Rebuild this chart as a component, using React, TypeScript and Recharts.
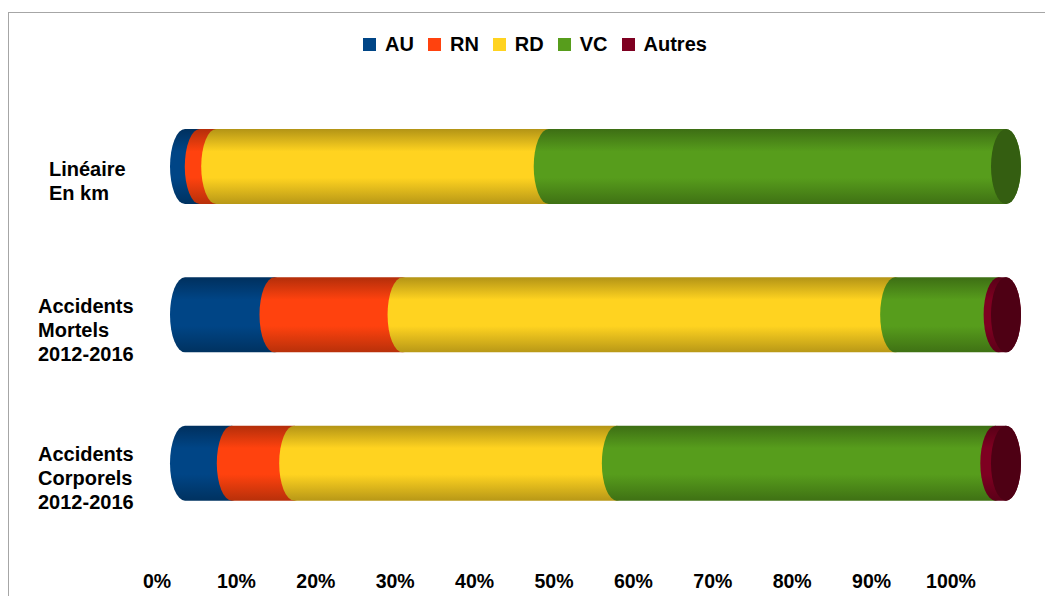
import React from 'react';
import { BarChart, Bar, XAxis, YAxis, Legend } from 'recharts';

const categories = ['Linéaire\nEn km', 'Accidents\nMortels\n2012-2016', 'Accidents\nCorporels\n2012-2016'];
const au = [1.8, 10.9, 5.7];
const rn = [2.0, 15.6, 7.6];
const rd = [40.5, 60.0, 39.3];
const vc = [55.7, 12.6, 46.1];
const autres = [0, 0.9, 1.3];
const xTicks = [0, 10, 20, 30, 40, 50, 60, 70, 80, 90, 100];

const seriesNames = ['AU', 'RN', 'RD', 'VC', 'Autres'];
const colors: Record<string, string> = {
  AU: '#004586',
  RN: '#ff420e',
  RD: '#ffd320',
  VC: '#579d1c',
  Autres: '#7e0021',
};

const data = categories.map((name, i) => ({
  name,
  AU: au[i],
  RN: rn[i],
  RD: rd[i],
  VC: vc[i],
  Autres: autres[i],
}));

const FONT = '"Liberation Sans", Arial, sans-serif';
const RX = 15;

const shade = (hex: string, f: number) => {
  const n = parseInt(hex.slice(1), 16);
  const r = Math.round(((n >> 16) & 255) * f);
  const g = Math.round(((n >> 8) & 255) * f);
  const b = Math.round((n & 255) * f);
  return `rgb(${r},${g},${b})`;
};

const makeShape = (key: string) => (props: any) => {
  const { x, y, width, height, payload, index } = props;
  if (!width || width <= 0) return <g />;
  const c = colors[key];
  const id = `grad-${key}-${index}`;
  const x0 = x;
  const x1 = x + width;
  const ry = height / 2;
  const lastKey = [...seriesNames].reverse().find((k) => payload[k] > 0);
  const d = `M${x0},${y} L${x1},${y} A${RX},${ry} 0 0 1 ${x1},${y + height} L${x0},${y + height} A${RX},${ry} 0 0 1 ${x0},${y} Z`;
  return (
    <g>
      <defs>
        <linearGradient id={id} x1="0" y1="0" x2="0" y2="1">
          <stop offset="0%" stopColor={shade(c, 0.7)} />
          <stop offset="30%" stopColor={c} />
          <stop offset="65%" stopColor={c} />
          <stop offset="100%" stopColor={shade(c, 0.72)} />
        </linearGradient>
      </defs>
      <path d={d} fill={`url(#${id})`} />
      {lastKey === key && (
        <ellipse cx={x1} cy={y + ry} rx={RX} ry={ry} fill={shade(c, key === 'Autres' ? 0.62 : 0.6)} />
      )}
    </g>
  );
};

const YTick = (props: any) => {
  const { y, payload } = props;
  const lines: string[] = String(payload.value).split('\n');
  const w = Math.max(...lines.map((l) => l.length)) * 11;
  const startX = 128 - w;
  return (
    <text x={startX} y={y + 15} fontFamily={FONT} fontSize={20} fontWeight="bold" fill="#000">
      {lines.map((l, i) => (
        <tspan key={i} x={startX} y={y + 15 + (i - (lines.length - 1) / 2) * 24} dominantBaseline="central">
          {l}
        </tspan>
      ))}
    </text>
  );
};

const XTick = (props: any) => {
  const { x, y, payload } = props;
  const lx = 148 + (x - 176) * (794 / 821);
  return (
    <text x={lx} y={y + 36} textAnchor="middle" dominantBaseline="central" fontFamily={FONT} fontSize={19.5} fontWeight="bold" fill="#000">
      {`${payload.value}%`}
    </text>
  );
};

const LegendContent = () => (
  <div style={{ display: 'flex', justifyContent: 'center', paddingLeft: 22, fontFamily: FONT }}>
    {seriesNames.map((k) => (
      <div key={k} style={{ display: 'flex', alignItems: 'center', marginRight: 14 }}>
        <span style={{ display: 'inline-block', width: 13, height: 13, background: colors[k], marginRight: 9 }} />
        <span style={{ fontSize: 20, fontWeight: 'bold', color: '#000' }}>{k}</span>
      </div>
    ))}
  </div>
);

export default function App() {
  return (
    <div style={{ marginTop: 4, width: 1100, height: 600, borderTop: '1px solid #a6a6a6', borderLeft: '1px solid #a6a6a6', background: '#fff' }}>
      <BarChart
        width={1044}
        height={583}
        data={data}
        layout="vertical"
        margin={{ top: 56, right: 47, left: 0, bottom: 0 }}
      >
        <Legend verticalAlign="top" content={<LegendContent />} wrapperStyle={{ top: 20, left: 0, width: 1044 }} />
        <XAxis type="number" domain={[0, 100]} ticks={xTicks} axisLine={false} tickLine={false} height={59} tick={<XTick />} interval={0} />
        <YAxis type="category" dataKey="name" width={176} axisLine={false} tickLine={false} tick={<YTick />} />
        {seriesNames.map((k) => (
          <Bar key={k} dataKey={k} stackId="a" fill={colors[k]} barSize={75} shape={makeShape(k)} isAnimationActive={false} />
        ))}
      </BarChart>
    </div>
  );
}
